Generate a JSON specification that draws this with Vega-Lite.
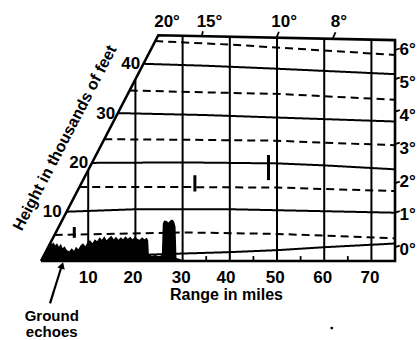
{
  "$schema": "https://vega.github.io/schema/vega-lite/v6.json",
  "width": 419,
  "height": 340,
  "autosize": "none",
  "padding": 0,
  "background": "white",
  "config": {"view": {"stroke": null}, "text": {"font": "Liberation Sans", "fontWeight": "bold", "fontSize": 16, "color": "black"}},
  "datasets": {
    "grid": [
      {"id": "v10", "k": "solid", "o": 0, "R": 10, "h": 0}, {"id": "v10", "k": "solid", "o": 1, "R": 10, "h": 18.4},
      {"id": "v20", "k": "solid", "o": 0, "R": 20, "h": 0}, {"id": "v20", "k": "solid", "o": 1, "R": 20, "h": 36.8},
      {"id": "v30", "k": "solid", "o": 0, "R": 30, "h": 0}, {"id": "v30", "k": "solid", "o": 1, "R": 30, "h": 45.7},
      {"id": "v40", "k": "solid", "o": 0, "R": 40, "h": 0}, {"id": "v40", "k": "solid", "o": 1, "R": 40, "h": 45.5},
      {"id": "v50", "k": "solid", "o": 0, "R": 50, "h": 0}, {"id": "v50", "k": "solid", "o": 1, "R": 50, "h": 45.3},
      {"id": "v60", "k": "solid", "o": 0, "R": 60, "h": 0}, {"id": "v60", "k": "solid", "o": 1, "R": 60, "h": 45.1},
      {"id": "v70", "k": "solid", "o": 0, "R": 70, "h": 0}, {"id": "v70", "k": "solid", "o": 1, "R": 70, "h": 44.9},
      {"id": "h45", "k": "dashed", "o": 0, "R": 24.2, "h": 44.6}, {"id": "h45", "k": "dashed", "o": 1, "R": 40, "h": 43.9}, {"id": "h45", "k": "dashed", "o": 2, "R": 55, "h": 43.0}, {"id": "h45", "k": "dashed", "o": 3, "R": 75, "h": 41.8},
      {"id": "h40", "k": "solid", "o": 0, "R": 21.7, "h": 40.0}, {"id": "h40", "k": "solid", "o": 1, "R": 35, "h": 39.6}, {"id": "h40", "k": "solid", "o": 2, "R": 50, "h": 39.0}, {"id": "h40", "k": "solid", "o": 3, "R": 75, "h": 37.9},
      {"id": "h35", "k": "dashed", "o": 0, "R": 18.8, "h": 34.6}, {"id": "h35", "k": "dashed", "o": 1, "R": 35, "h": 34.2}, {"id": "h35", "k": "dashed", "o": 2, "R": 50, "h": 33.9}, {"id": "h35", "k": "dashed", "o": 3, "R": 75, "h": 32.7},
      {"id": "h30", "k": "solid", "o": 0, "R": 16.3, "h": 30.0}, {"id": "h30", "k": "solid", "o": 1, "R": 35, "h": 29.6}, {"id": "h30", "k": "solid", "o": 2, "R": 50, "h": 29.1}, {"id": "h30", "k": "solid", "o": 3, "R": 75, "h": 28.3},
      {"id": "h25", "k": "dashed", "o": 0, "R": 13.4, "h": 24.7}, {"id": "h25", "k": "dashed", "o": 1, "R": 30, "h": 24.6}, {"id": "h25", "k": "dashed", "o": 2, "R": 50, "h": 24.4}, {"id": "h25", "k": "dashed", "o": 3, "R": 60, "h": 24.0}, {"id": "h25", "k": "dashed", "o": 4, "R": 75, "h": 23.5},
      {"id": "h20", "k": "solid", "o": 0, "R": 10.8, "h": 19.9}, {"id": "h20", "k": "solid", "o": 1, "R": 30, "h": 20.0}, {"id": "h20", "k": "solid", "o": 2, "R": 50, "h": 19.8}, {"id": "h20", "k": "solid", "o": 3, "R": 60, "h": 19.4}, {"id": "h20", "k": "solid", "o": 4, "R": 75, "h": 18.6},
      {"id": "h15", "k": "dashed", "o": 0, "R": 8.1, "h": 15.0}, {"id": "h15", "k": "dashed", "o": 1, "R": 30, "h": 15.0}, {"id": "h15", "k": "dashed", "o": 2, "R": 50, "h": 14.9}, {"id": "h15", "k": "dashed", "o": 3, "R": 60, "h": 14.6}, {"id": "h15", "k": "dashed", "o": 4, "R": 75, "h": 14.2},
      {"id": "h10", "k": "solid", "o": 0, "R": 5.45, "h": 10.0}, {"id": "h10", "k": "solid", "o": 1, "R": 20, "h": 10.5}, {"id": "h10", "k": "solid", "o": 2, "R": 40, "h": 10.5}, {"id": "h10", "k": "solid", "o": 3, "R": 55, "h": 10.2}, {"id": "h10", "k": "solid", "o": 4, "R": 75, "h": 9.8},
      {"id": "h05", "k": "dashed", "o": 0, "R": 2.9, "h": 5.3}, {"id": "h05", "k": "dashed", "o": 1, "R": 30, "h": 5.8}, {"id": "h05", "k": "dashed", "o": 2, "R": 50, "h": 5.5}, {"id": "h05", "k": "dashed", "o": 3, "R": 75, "h": 4.6},
      {"id": "h00", "k": "solid", "o": 0, "R": 20, "h": 1.2}, {"id": "h00", "k": "solid", "o": 1, "R": 29.4, "h": 1.5}, {"id": "h00", "k": "solid", "o": 2, "R": 40, "h": 1.8}, {"id": "h00", "k": "solid", "o": 3, "R": 50, "h": 2.2}, {"id": "h00", "k": "solid", "o": 4, "R": 60, "h": 2.8}, {"id": "h00", "k": "solid", "o": 5, "R": 75, "h": 3.55}
    ],
    "border": [
      {"o": 0, "R": 0, "h": 0}, {"o": 1, "R": 24.85, "h": 45.8}, {"o": 2, "R": 75, "h": 44.8}, {"o": 3, "R": 75, "h": 0}, {"o": 4, "R": 0, "h": 0}
    ],
    "echo": [
      {"R": 0, "h": 0}, {"R": 0.6, "h": 1.1}, {"R": 1.27, "h": 2.3}, {"R": 1.7, "h": 3.2}, {"R": 2.0, "h": 3.9}, {"R": 2.3, "h": 3.4}, {"R": 2.6, "h": 3.8}, {"R": 3.0, "h": 3.2}, {"R": 3.4, "h": 3.6}, {"R": 3.8, "h": 2.9}, {"R": 4.2, "h": 3.5}, {"R": 4.6, "h": 2.6}, {"R": 5.0, "h": 3.0}, {"R": 5.5, "h": 2.2}, {"R": 6.0, "h": 2.0}, {"R": 6.5, "h": 2.6}, {"R": 7.0, "h": 2.1}, {"R": 7.4, "h": 2.9}, {"R": 7.9, "h": 2.4}, {"R": 8.4, "h": 3.2}, {"R": 8.9, "h": 3.6}, {"R": 9.4, "h": 3.0}, {"R": 9.9, "h": 3.9}, {"R": 10.4, "h": 4.2}, {"R": 10.9, "h": 3.6}, {"R": 11.4, "h": 4.4}, {"R": 11.9, "h": 4.0}, {"R": 12.4, "h": 4.8}, {"R": 12.9, "h": 4.3}, {"R": 13.4, "h": 5.0}, {"R": 13.9, "h": 4.2}, {"R": 14.4, "h": 4.7}, {"R": 14.9, "h": 5.1}, {"R": 15.4, "h": 4.4}, {"R": 15.9, "h": 4.9}, {"R": 16.4, "h": 4.3}, {"R": 16.9, "h": 4.8}, {"R": 17.4, "h": 4.4}, {"R": 17.9, "h": 5.0}, {"R": 18.4, "h": 4.5}, {"R": 18.9, "h": 4.9}, {"R": 19.4, "h": 4.4}, {"R": 19.9, "h": 4.9}, {"R": 20.4, "h": 4.5}, {"R": 20.9, "h": 4.3}, {"R": 21.4, "h": 4.8}, {"R": 21.9, "h": 4.4}, {"R": 22.4, "h": 4.7}, {"R": 22.7, "h": 4.2}, {"R": 22.85, "h": 1.4}, {"R": 23.5, "h": 1.0}, {"R": 24.2, "h": 1.2}, {"R": 25.0, "h": 0.9}, {"R": 25.6, "h": 1.2}, {"R": 25.8, "h": 7.6}, {"R": 26.1, "h": 8.2}, {"R": 26.6, "h": 8.1}, {"R": 27.0, "h": 7.8}, {"R": 27.4, "h": 8.2}, {"R": 27.8, "h": 8.4}, {"R": 28.2, "h": 8.0}, {"R": 28.5, "h": 7.0}, {"R": 28.7, "h": 0.6}, {"R": 29.5, "h": 0.4}, {"R": 30, "h": 0}
    ],
    "ticks": [
      {"R": 25, "R2": 25, "h": 0, "h2": 1.0}, {"R": 35, "R2": 35, "h": 0, "h2": 1.0}, {"R": 45, "R2": 45, "h": 0, "h2": 1.0}, {"R": 55, "R2": 55, "h": 0, "h2": 1.0}, {"R": 65, "R2": 65, "h": 0, "h2": 1.0},
      {"R": 34.05, "R2": 34.3, "h": 45.6, "h2": 46.6}, {"R": 49.9, "R2": 50.4, "h": 45.3, "h2": 46.5}, {"R": 61.8, "R2": 62.4, "h": 45.1, "h2": 46.4},
      {"R": 75, "R2": 76.0, "h": 42.8, "h2": 43.1}, {"R": 75, "R2": 76.0, "h": 36.9, "h2": 37.2}, {"R": 75, "R2": 76.0, "h": 30.3, "h2": 30.6}, {"R": 75, "R2": 76.0, "h": 23.7, "h2": 24.0}, {"R": 75, "R2": 76.0, "h": 15.8, "h2": 16.1}, {"R": 75, "R2": 76.0, "h": 9.8, "h2": 10.1}, {"R": 75, "R2": 76.0, "h": 2.8, "h2": 3.1}
    ],
    "bars": [
      {"R": 7.05, "R2": 7.05, "h": 4.7, "h2": 6.9}, {"R": 32.6, "R2": 32.6, "h": 14.1, "h2": 17.4}, {"R": 48.2, "R2": 48.2, "h": 16.4, "h2": 21.5}
    ],
    "arrow": [{"R": 1.91, "R2": 4.45, "h": -8.58, "h2": -0.81}],
    "arrowhead": [{"R": 4.47, "h": -0.91}],
    "speck": [{"R": 61.6, "h": -13.6}],
    "numlabels": [
      {"R": 10.0, "h": -4.5, "t": "10"}, {"R": 19.5, "h": -4.5, "t": "20"}, {"R": 29.7, "h": -4.5, "t": "30"}, {"R": 39.2, "h": -4.5, "t": "40"}, {"R": 49.6, "h": -4.5, "t": "50"}, {"R": 59.7, "h": -4.5, "t": "60"}, {"R": 69.7, "h": -4.5, "t": "70"},
      {"R": 26.7, "h": 47.5, "t": "20°"}, {"R": 35.7, "h": 47.5, "t": "15°"}, {"R": 51.5, "h": 47.5, "t": "10°"}, {"R": 63.1, "h": 47.5, "t": "8°"}
    ],
    "xtitle": [{"R": 39.3, "h": -8.0, "t": "Range in miles"}],
    "glabel": [{"R": 2.27, "h": -12.2, "t": "Ground"}, {"R": 2.27, "h": -15.5, "t": "echoes"}],
    "ylabels": [
      {"R": 4.4, "h": 8.9, "t": "10"}, {"R": 10.0, "h": 18.8, "t": "20"}, {"R": 15.7, "h": 28.9, "t": "30"}, {"R": 21.0, "h": 38.9, "t": "40"}
    ],
    "rlabels": [
      {"R": 75.95, "h": 41.8, "t": "6°"}, {"R": 75.95, "h": 35.1, "t": "5°"}, {"R": 75.95, "h": 28.3, "t": "4°"}, {"R": 75.95, "h": 21.8, "t": "3°"}, {"R": 75.95, "h": 15.0, "t": "2°"}, {"R": 75.95, "h": 8.3, "t": "1°"}, {"R": 75.95, "h": 1.2, "t": "0°"}
    ],
    "ytitle": [{"R": 5.08, "h": 24.95, "t": "Height in thousands of feet"}]
  },
  "layer": [
    {
      "data": {"name": "grid"},
      "mark": {"type": "line", "color": "black", "strokeWidth": 2},
      "encoding": {
        "x": {"field": "R", "type": "quantitative", "scale": {"domain": [-8.686, 80.08], "nice": false, "zero": false}, "axis": null},
        "y": {"field": "h", "type": "quantitative", "scale": {"domain": [-16.02, 52.94], "nice": false, "zero": false}, "axis": null},
        "detail": {"field": "id"},
        "order": {"field": "o"},
        "strokeDash": {"field": "k", "type": "nominal", "scale": {"domain": ["solid", "dashed"], "range": [[1, 0], [8, 5]]}, "legend": null}
      }
    },
    {
      "data": {"name": "echo"},
      "mark": {"type": "area", "color": "black", "interpolate": "linear"},
      "encoding": {
        "x": {"field": "R", "type": "quantitative", "axis": null},
        "y": {"field": "h", "type": "quantitative", "axis": null},
        "y2": {"datum": 0}
      }
    },
    {
      "data": {"name": "border"},
      "mark": {"type": "line", "color": "black", "strokeWidth": 2.6},
      "encoding": {
        "x": {"field": "R", "type": "quantitative", "axis": null},
        "y": {"field": "h", "type": "quantitative", "axis": null},
        "order": {"field": "o"}
      }
    },
    {
      "data": {"name": "ticks"},
      "mark": {"type": "rule", "color": "black", "strokeWidth": 1.8},
      "encoding": {
        "x": {"field": "R", "type": "quantitative", "axis": null},
        "x2": {"field": "R2"},
        "y": {"field": "h", "type": "quantitative", "axis": null},
        "y2": {"field": "h2"}
      }
    },
    {
      "data": {"name": "bars"},
      "mark": {"type": "rule", "color": "black", "strokeWidth": 3},
      "encoding": {
        "x": {"field": "R", "type": "quantitative", "axis": null},
        "x2": {"field": "R2"},
        "y": {"field": "h", "type": "quantitative", "axis": null},
        "y2": {"field": "h2"}
      }
    },
    {
      "data": {"name": "arrow"},
      "mark": {"type": "rule", "color": "black", "strokeWidth": 2.2},
      "encoding": {
        "x": {"field": "R", "type": "quantitative", "axis": null},
        "x2": {"field": "R2"},
        "y": {"field": "h", "type": "quantitative", "axis": null},
        "y2": {"field": "h2"}
      }
    },
    {
      "data": {"name": "arrowhead"},
      "mark": {"type": "point", "shape": "triangle-up", "filled": true, "color": "black", "size": 60, "angle": 17.7, "opacity": 1},
      "encoding": {
        "x": {"field": "R", "type": "quantitative", "axis": null},
        "y": {"field": "h", "type": "quantitative", "axis": null}
      }
    },
    {
      "data": {"name": "speck"},
      "mark": {"type": "point", "shape": "circle", "filled": true, "color": "black", "size": 8, "opacity": 1},
      "encoding": {
        "x": {"field": "R", "type": "quantitative", "axis": null},
        "y": {"field": "h", "type": "quantitative", "axis": null}
      }
    },
    {
      "data": {"name": "numlabels"},
      "mark": {"type": "text", "align": "center", "baseline": "alphabetic", "fontSize": 17},
      "encoding": {
        "x": {"field": "R", "type": "quantitative", "axis": null},
        "y": {"field": "h", "type": "quantitative", "axis": null},
        "text": {"field": "t"}
      }
    },
    {
      "data": {"name": "xtitle"},
      "mark": {"type": "text", "align": "center", "baseline": "alphabetic", "fontSize": 16},
      "encoding": {
        "x": {"field": "R", "type": "quantitative", "axis": null},
        "y": {"field": "h", "type": "quantitative", "axis": null},
        "text": {"field": "t"}
      }
    },
    {
      "data": {"name": "glabel"},
      "mark": {"type": "text", "align": "center", "baseline": "alphabetic", "fontSize": 15},
      "encoding": {
        "x": {"field": "R", "type": "quantitative", "axis": null},
        "y": {"field": "h", "type": "quantitative", "axis": null},
        "text": {"field": "t"}
      }
    },
    {
      "data": {"name": "ylabels"},
      "mark": {"type": "text", "align": "right", "baseline": "alphabetic", "fontSize": 17},
      "encoding": {
        "x": {"field": "R", "type": "quantitative", "axis": null},
        "y": {"field": "h", "type": "quantitative", "axis": null},
        "text": {"field": "t"}
      }
    },
    {
      "data": {"name": "rlabels"},
      "mark": {"type": "text", "align": "left", "baseline": "alphabetic", "fontSize": 17},
      "encoding": {
        "x": {"field": "R", "type": "quantitative", "axis": null},
        "y": {"field": "h", "type": "quantitative", "axis": null},
        "text": {"field": "t"}
      }
    },
    {
      "data": {"name": "ytitle"},
      "mark": {"type": "text", "align": "center", "baseline": "middle", "angle": 297.5, "fontSize": 16},
      "encoding": {
        "x": {"field": "R", "type": "quantitative", "axis": null},
        "y": {"field": "h", "type": "quantitative", "axis": null},
        "text": {"field": "t"}
      }
    }
  ]
}
